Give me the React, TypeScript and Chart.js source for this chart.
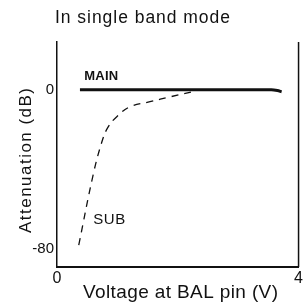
import React, { useEffect, useRef } from "react";
import { Chart, registerables } from "chart.js";

Chart.register(...registerables);

const title = "In single band mode";
const xTitle = "Voltage at BAL pin (V)";
const yTitle = "Attenuation (dB)";
const xTicks = [0, 4];
const yTicks = [0, -80];
const mainX = [0.38, 3.55, 3.65, 3.72];
const mainY = [0, 0, -0.4, -1];
const subX = [0.36, 0.6, 0.74, 0.84, 0.99, 1.21, 1.54, 1.88, 2.31];
const subY = [-78, -42.5, -26.5, -19, -13.5, -8.5, -6, -3.5, -0.5];
const mainLabel = "MAIN";
const subLabel = "SUB";

const FONT = "'Liberation Sans', Arial, sans-serif";

function fitText(ctx: any, text: string, x: number, y: number, width: number, font: string) {
  ctx.font = font;
  ctx.letterSpacing = "0px";
  const w = ctx.measureText(text).width;
  const sp = (width - w) / Math.max(1, text.length - 1);
  ctx.letterSpacing = `${sp}px`;
  ctx.textAlign = "left";
  ctx.fillText(text, x, y);
  ctx.letterSpacing = "0px";
}

const textPlugin = {
  id: "texts",
  afterDraw(chart: any) {
    const { ctx, chartArea, scales } = chart;
    ctx.save();
    ctx.strokeStyle = "#111";
    ctx.lineWidth = 1.5;
    ctx.beginPath();
    ctx.moveTo(chartArea.right, chartArea.top);
    ctx.lineTo(chartArea.right, chartArea.bottom);
    ctx.stroke();
    ctx.fillStyle = "#111";
    ctx.textBaseline = "middle";
    fitText(ctx, title, 55, 18, 175, `17.5px ${FONT}`);
    fitText(ctx, xTitle, 83, 293, 195, `19px ${FONT}`);
    ctx.save();
    ctx.translate(26, 233);
    ctx.rotate(-Math.PI / 2);
    fitText(ctx, yTitle, 0, 0, 145, `17px ${FONT}`);
    ctx.restore();
    fitText(ctx, mainLabel, scales.x.getPixelForValue(0.45), scales.y.getPixelForValue(6.5), 34, `bold 13px ${FONT}`);
    fitText(ctx, subLabel, scales.x.getPixelForValue(0.6), scales.y.getPixelForValue(-65.5), 32, `15px ${FONT}`);
    ctx.restore();
  },
};

export default function App() {
  const ref = useRef<HTMLCanvasElement>(null);
  useEffect(() => {
    const chart = new Chart(ref.current!, {
      type: "line",
      data: {
        datasets: [
          {
            label: mainLabel,
            data: mainX.map((x, i) => ({ x, y: mainY[i] })),
            borderColor: "#111",
            borderWidth: 3,
            pointRadius: 0,
            tension: 0.3,
          },
          {
            label: subLabel,
            data: subX.map((x, i) => ({ x, y: subY[i] })),
            borderColor: "#111",
            borderWidth: 1.3,
            borderDash: [7, 6],
            pointRadius: 0,
            tension: 0.4,
          },
        ],
      },
      options: {
        animation: false,
        responsive: false,
        layout: { padding: { top: 42, right: 6, left: 0, bottom: 0 } },
        plugins: { legend: { display: false }, tooltip: { enabled: false }, title: { display: false } },
        scales: {
          x: {
            type: "linear",
            min: 0,
            max: 4,
            afterBuildTicks: (s: any) => {
              s.ticks = xTicks.map((v) => ({ value: v }));
            },
            afterFit: (s: any) => {
              s.height = 36;
            },
            grid: { display: false, drawTicks: false },
            border: { color: "#111", width: 2 },
            ticks: { color: "#111", font: { size: 16, family: FONT }, padding: 2, maxRotation: 0, autoSkip: false },
          },
          y: {
            type: "linear",
            min: -89,
            max: 24,
            afterBuildTicks: (s: any) => {
              s.ticks = yTicks.map((v) => ({ value: v }));
            },
            afterFit: (s: any) => {
              s.width = 57;
            },
            grid: { display: false, drawTicks: false },
            border: { color: "#111", width: 1.5 },
            ticks: { color: "#111", font: { size: 15, family: FONT }, padding: 3, autoSkip: false },
          },
        },
      },
      plugins: [textPlugin],
    });
    return () => chart.destroy();
  }, []);
  return (
    <div style={{ position: "fixed", left: 0, top: 0, width: 305, height: 303, background: "#fff" }}>
      <canvas ref={ref} width={305} height={303} style={{ display: "block" }} />
    </div>
  );
}
